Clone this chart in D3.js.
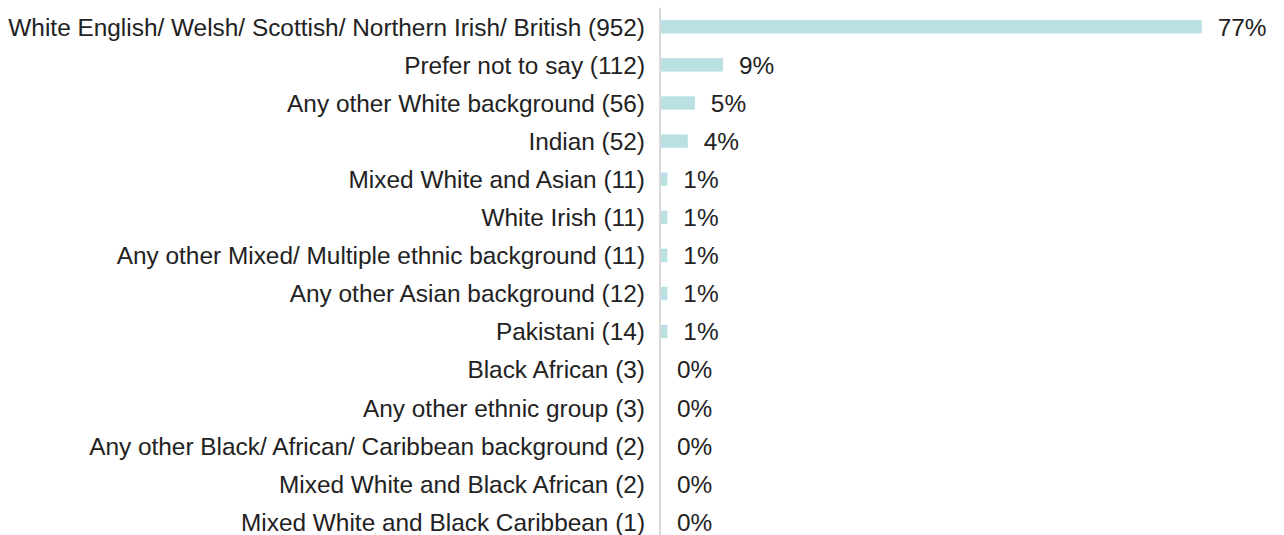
<!DOCTYPE html>
<html>
<head>
<meta charset="utf-8">
<script src="https://cdn.jsdelivr.net/npm/d3@7"></script>
<style>
  html, body { margin: 0; padding: 0; background: #ffffff; }
  svg { display: block; }
</style>
</head>
<body>
<svg id="chart" width="1284" height="535"></svg>
<script>
const categories = [
  "White English/ Welsh/ Scottish/ Northern Irish/ British (952)",
  "Prefer not to say (112)",
  "Any other White background (56)",
  "Indian (52)",
  "Mixed White and Asian (11)",
  "White Irish (11)",
  "Any other Mixed/ Multiple ethnic background (11)",
  "Any other Asian background (12)",
  "Pakistani (14)",
  "Black African (3)",
  "Any other ethnic group (3)",
  "Any other Black/ African/ Caribbean background (2)",
  "Mixed White and Black African (2)",
  "Mixed White and Black Caribbean (1)"
];
const percentValues = [76.7, 8.8, 4.8, 3.8, 0.9, 0.9, 0.9, 0.9, 0.9, 0, 0, 0, 0, 0];
const valueLabels = ["77%", "9%", "5%", "4%", "1%", "1%", "1%", "1%", "1%", "0%", "0%", "0%", "0%", "0%"];

const data = categories.map((c, i) => ({ cat: c, value: percentValues[i], label: valueLabels[i] }));

const svg = d3.select("#chart");
const font = "'Liberation Sans', Arial, Helvetica, sans-serif";
const axisX = 660;

const y = d3.scaleBand()
  .domain(categories)
  .range([7.75, 541.15])
  .paddingInner(0.65)
  .paddingOuter(0.325);

const x = d3.scaleLinear()
  .domain([0, 100])
  .range([axisX + 1, axisX + 1 + 705]);

// bars
svg.append("g")
  .selectAll("rect")
  .data(data)
  .join("rect")
  .attr("x", x(0))
  .attr("y", d => y(d.cat))
  .attr("width", d => x(d.value) - x(0))
  .attr("height", y.bandwidth())
  .attr("fill", "#b9e0e3");

// axis line
svg.append("line")
  .attr("x1", axisX).attr("x2", axisX)
  .attr("y1", y.range()[0]).attr("y2", y.range()[1])
  .attr("stroke", "#d9d9d9")
  .attr("stroke-width", 2);

// category labels
svg.append("g")
  .selectAll("text")
  .data(data)
  .join("text")
  .attr("x", axisX - 15)
  .attr("y", d => y(d.cat) + y.bandwidth() / 2)
  .attr("dy", "0.36em")
  .attr("text-anchor", "end")
  .attr("font-family", font)
  .attr("font-size", "24.4px")
  .attr("fill", "#222222")
  .text(d => d.cat);

// value labels
svg.append("g")
  .selectAll("text")
  .data(data)
  .join("text")
  .attr("x", d => x(d.value) + 16)
  .attr("y", d => y(d.cat) + y.bandwidth() / 2)
  .attr("dy", "0.36em")
  .attr("text-anchor", "start")
  .attr("font-family", font)
  .attr("font-size", "24.4px")
  .attr("fill", "#222222")
  .text(d => d.label);
</script>
</body>
</html>
